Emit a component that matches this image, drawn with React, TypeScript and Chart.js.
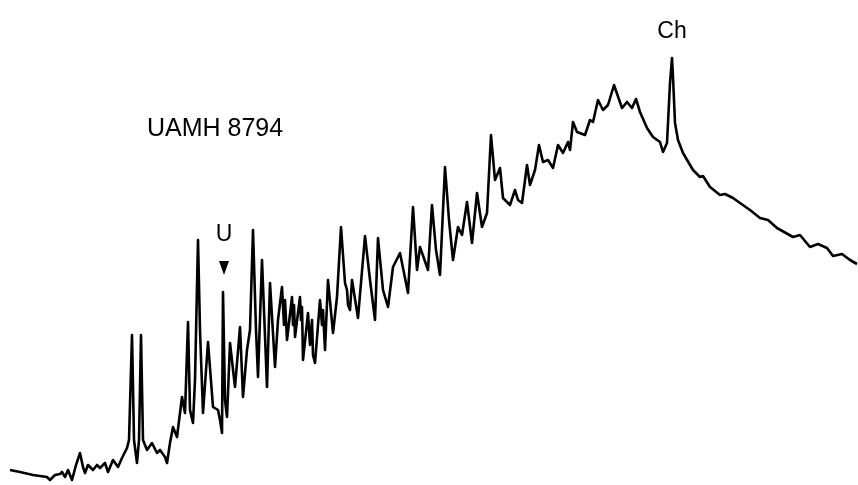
import React, { useEffect, useRef } from "react";
import { Chart, registerables } from "chart.js";

Chart.register(...registerables);

// Retention position (arbitrary units) and detector response
const retention: number[] = [
  10, 20, 33, 47, 50, 55, 60, 62, 65, 68, 72, 76, 80, 83, 85, 88, 93, 97, 100, 105,
  108, 113, 118, 122, 127, 129, 132, 134, 137, 139, 141, 143, 147, 152, 157, 160, 165, 167, 170, 173,
  177, 182, 185, 188, 190, 193, 195, 198, 200, 203, 208, 213, 218, 220, 222, 223, 225, 227, 230, 235,
  240, 243, 247, 250, 253, 256, 258, 262, 267, 270, 275, 278, 282, 284, 285, 287, 292, 293, 294, 295,
  300, 301, 302, 303, 308, 310, 312, 313, 315, 320, 322, 323, 325, 328, 333, 337, 341, 345, 347, 348,
  350, 352, 358, 365, 370, 375, 378, 383, 388, 393, 400, 408, 413, 417, 420, 428, 432, 436, 440, 445,
  449, 453, 458, 462, 467, 472, 477, 482, 487, 491, 495, 500, 503, 510, 515, 518, 522, 527, 530, 535,
  539, 543, 548, 553, 558, 563, 568, 570, 573, 577, 585, 590, 593, 598, 603, 608, 614, 622, 627, 632,
  636, 640, 647, 653, 660, 663, 667, 670, 672, 673, 675, 678, 683, 693, 700, 703, 710, 720, 725, 733,
  740, 750, 760, 768, 777, 793, 800, 810, 818, 827, 833, 842, 850, 857,
];

const response: number[] = [
  15, 13, 10, 8, 5, 10, 11, 13, 8, 15, 5, 20, 32, 18, 12, 20, 15, 20, 17, 22,
  13, 25, 18, 27, 37, 45, 150, 45, 22, 45, 150, 45, 35, 42, 32, 35, 28, 22, 42, 58,
  48, 88, 72, 163, 75, 62, 105, 245, 155, 72, 143, 78, 75, 65, 52, 193, 85, 68, 142, 98,
  158, 88, 135, 155, 255, 155, 108, 225, 98, 202, 118, 165, 198, 160, 185, 145, 188, 160, 180, 148,
  188, 165, 178, 125, 172, 140, 165, 130, 122, 185, 160, 175, 135, 205, 152, 188, 258, 202, 195, 180,
  175, 205, 167, 249, 205, 165, 247, 195, 178, 218, 232, 192, 278, 215, 238, 215, 280, 235, 210, 318,
  265, 225, 258, 250, 283, 242, 292, 258, 272, 350, 305, 317, 287, 280, 295, 285, 282, 320, 300, 315,
  340, 323, 325, 317, 340, 332, 343, 335, 363, 353, 350, 365, 363, 385, 375, 380, 400, 377, 383, 377,
  386, 373, 357, 348, 343, 333, 342, 402, 427, 408, 362, 345, 332, 315, 308, 309, 298, 290, 291, 287,
  282, 275, 267, 265, 257, 248, 250, 238, 241, 237, 229, 231, 225, 221,
];

const sampleLabel = "UAMH 8794";
const peakLabels = [
  { text: "Ch", x: 672, y: 455 },
  { text: "U", x: 224, y: 252 },
];
const markerPeak = { x: 224, y: 217 };

const W = 858;
const H = 485;

export default function App() {
  const ref = useRef<HTMLCanvasElement | null>(null);
  const [pos, setPos] = React.useState<any>(null);

  useEffect(() => {
    if (!ref.current) return;
    const chart = new Chart(ref.current, {
      type: "line",
      data: {
        datasets: [
          {
            data: retention.map((x, i) => ({ x, y: response[i] })),
            borderColor: "#000",
            borderWidth: 2.6,
            borderJoinStyle: "round",
            pointRadius: 0,
            tension: 0,
            fill: false,
          },
        ],
      },
      options: {
        animation: false,
        responsive: false,
        layout: { padding: 0 },
        plugins: { legend: { display: false }, tooltip: { enabled: false } },
        scales: {
          x: { type: "linear", min: 0, max: W, display: false },
          y: { type: "linear", min: 0, max: H, display: false },
        },
      },
    });
    const xs = chart.scales.x;
    const ys = chart.scales.y;
    setPos({
      labels: peakLabels.map((l) => ({ text: l.text, left: xs.getPixelForValue(l.x), top: ys.getPixelForValue(l.y) })),
      marker: { left: xs.getPixelForValue(markerPeak.x), top: ys.getPixelForValue(markerPeak.y) },
    });
    return () => chart.destroy();
  }, []);

  const font = '"Liberation Sans", Arial, sans-serif';
  return (
    <div style={{ position: "fixed", left: 0, top: 0, width: W, height: H, background: "#fff" }}>
      <canvas ref={ref} width={W} height={H} style={{ position: "absolute", left: 0, top: 0 }} />
      <div style={{ position: "absolute", left: 147, top: 115, fontFamily: font, fontSize: 25, color: "#000", whiteSpace: "nowrap", lineHeight: 1 }}>
        {sampleLabel}
      </div>
      {pos &&
        pos.labels.map((l: any) => (
          <div key={l.text} style={{ position: "absolute", left: l.left, top: l.top, transform: "translate(-50%, -50%)", fontFamily: font, fontSize: 23, color: "#000", lineHeight: 1 }}>
            {l.text}
          </div>
        ))}
      {pos && (
        <div style={{ position: "absolute", left: pos.marker.left, top: pos.marker.top, transform: "translate(-50%, -50%)", width: 0, height: 0, borderLeft: "5px solid transparent", borderRight: "5px solid transparent", borderTop: "14px solid #000" }} />
      )}
    </div>
  );
}
